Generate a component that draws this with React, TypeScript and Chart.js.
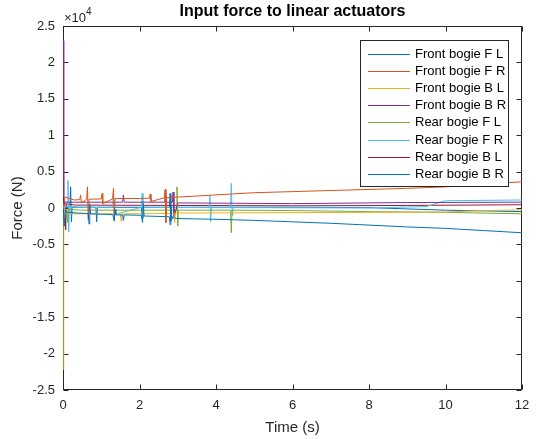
import React, { useEffect, useRef } from "react";
import { Chart, registerables } from "chart.js";

Chart.register(...registerables);

const TITLE = "Input force to linear actuators";
const X_LABEL = "Time (s)";
const Y_LABEL = "Force (N)";
const Y_EXPONENT = "4";
const X_TICKS = [0, 2, 4, 6, 8, 10, 12];
const Y_TICKS = [-25000, -20000, -15000, -10000, -5000, 0, 5000, 10000, 15000, 20000, 25000];

const SERIES_NAMES = [
  "Front bogie F L",
  "Front bogie F R",
  "Front bogie B L",
  "Front bogie B R",
  "Rear bogie F L",
  "Rear bogie F R",
  "Rear bogie B L",
  "Rear bogie B R",
];
const SERIES_COLORS = ["#0072BD", "#D95319", "#EDB120", "#7E2F8E", "#77AC30", "#4DBEEE", "#A2142F", "#0072BD"];

// Force values in N, times in s
const frontFL_t = [0, 0.03, 0.06, 0.1, 0.4, 0.66, 0.68, 0.7, 0.72, 1.3, 1.34, 1.36, 1.38, 1.56, 1.58, 1.6, 2.05, 2.08, 2.1, 2.12, 2.78, 2.8, 2.82, 2.84, 3.0, 4.0, 5.0, 6.0, 7.0, 8.0, 9.0, 10.0, 11.0, 12.0];
const frontFL_v = [0, -2500, -300, -600, -700, -750, -2200, 500, -800, -900, -1800, -200, -950, -950, -1700, -950, -1000, -2000, 600, -1100, -1200, -2300, 300, -1300, -1450, -1550, -1700, -1900, -2100, -2350, -2600, -2800, -3100, -3400];

const frontFR_t = [0, 0.05, 0.3, 0.44, 0.46, 0.48, 0.62, 0.64, 0.66, 0.68, 1.0, 1.02, 1.04, 1.3, 1.32, 1.34, 1.36, 2.0, 2.26, 2.28, 2.3, 2.65, 2.67, 2.69, 2.71, 3.0, 4.0, 5.0, 6.0, 7.0, 8.0, 9.0, 10.0, 11.0, 12.0];
const frontFR_v = [0, 1500, 1100, 1150, 1800, 700, 1200, 2900, -1600, 1200, 1250, 2000, 600, 1250, 2700, -1600, 1300, 1300, 1350, 1900, 900, 1400, 2500, -2000, 1400, 1500, 1800, 2100, 2250, 2400, 2550, 2700, 2900, 3250, 3600];

const frontBL_t = [0, 0.02, 0.05, 0.3, 1.5, 1.52, 1.54, 2.9, 2.92, 2.94, 3.0, 5.0, 8.0, 10.0, 11.0, 12.0];
const frontBL_v = [-22200, -800, -700, -800, -800, -1800, -800, -750, -2000, -700, -700, -650, -600, -550, -350, -250];

const frontBR_t = [0, 0.02, 0.05, 0.3, 1.56, 1.58, 1.6, 2.66, 2.68, 2.7, 2.86, 2.88, 2.9, 3.0, 6.0, 9.0, 12.0];
const frontBR_v = [23000, 1500, 800, 800, 800, 1800, 800, 800, 2600, 800, 800, 2200, -1200, 700, 600, 750, 800];

const rearFL_t = [0, 0.1, 0.12, 0.14, 0.5, 2.96, 2.98, 3.0, 3.02, 4.38, 4.4, 4.42, 6.0, 8.0, 10.0, 12.0];
const rearFL_v = [0, -200, -2000, -200, -300, -300, 2900, -2500, -300, -300, -3400, -300, -350, -500, -600, -800];

const rearFR_t = [0, 0.11, 0.13, 0.15, 0.17, 0.5, 1.3, 1.32, 1.34, 2.05, 2.07, 2.09, 2.11, 3.82, 3.84, 3.86, 3.88, 4.38, 4.4, 4.42, 4.44, 8.0, 9.5, 10.0, 12.0];
const rearFR_v = [0, 200, 3800, -3300, 200, 100, 100, 2300, -900, 100, 2000, -1400, 100, 50, 1800, -1900, 50, 50, 3400, -1000, 50, 0, 200, 1000, 1100];

const rearBL_t = [0, 0.05, 0.07, 0.09, 0.3, 3.0, 6.0, 9.0, 12.0];
const rearBL_v = [0, 800, -3000, 600, 400, 350, 300, 350, 450];

const rearBR_t = [0, 0.18, 0.2, 0.22, 0.24, 0.5, 0.86, 0.88, 0.9, 2.05, 2.07, 2.09, 2.78, 2.8, 2.82, 3.0, 6.0, 8.0, 10.0, 12.0];
const rearBR_v = [0, 100, 2900, -1900, 100, 100, 100, -1900, 100, 100, -1400, 100, 100, 2000, -1800, 100, 100, 50, -300, -500];

const SERIES_T = [frontFL_t, frontFR_t, frontBL_t, frontBR_t, rearFL_t, rearFR_t, rearBL_t, rearBR_t];
const SERIES_V = [frontFL_v, frontFR_v, frontBL_v, frontBR_v, rearFL_v, rearFR_v, rearBL_v, rearBR_v];

const FONT = "'Liberation Sans', Arial, Helvetica, sans-serif";
const AXIS_COLOR = "#262626";

const framePlugin = {
  id: "matlabFrame",
  beforeDatasetsDraw(chart: any) {
    const { ctx, chartArea: a, scales } = chart;
    const L = Math.round(a.left) + 0.5;
    const R = Math.round(a.right) - 0.5;
    const T = Math.round(a.top) + 0.5;
    const B = Math.round(a.bottom) - 0.5;
    ctx.save();
    ctx.strokeStyle = AXIS_COLOR;
    ctx.lineWidth = 1;
    ctx.strokeRect(L, T, R - L, B - T);
    const tl = 5;
    ctx.beginPath();
    scales.x.ticks.forEach((t: any) => {
      const px = Math.round(scales.x.getPixelForValue(t.value)) + 0.5;
      ctx.moveTo(px, B);
      ctx.lineTo(px, B - tl);
      ctx.moveTo(px, T);
      ctx.lineTo(px, T + tl);
    });
    scales.y.ticks.forEach((t: any) => {
      const py = Math.round(scales.y.getPixelForValue(t.value)) + 0.5;
      ctx.moveTo(L, py);
      ctx.lineTo(L + tl, py);
      ctx.moveTo(R, py);
      ctx.lineTo(R - tl, py);
    });
    ctx.stroke();
    ctx.restore();
  },
  afterDraw(chart: any) {
    const { ctx, chartArea: a } = chart;
    ctx.save();
    // title
    ctx.fillStyle = "#000";
    ctx.font = `bold 16px ${FONT}`;
    ctx.textAlign = "center";
    ctx.textBaseline = "middle";
    ctx.fillText(TITLE, (a.left + a.right) / 2, 12);
    // axis labels
    ctx.fillStyle = AXIS_COLOR;
    ctx.font = `15px ${FONT}`;
    ctx.fillText(X_LABEL, (a.left + a.right) / 2, 428);
    ctx.save();
    ctx.translate(18, (a.top + a.bottom) / 2);
    ctx.rotate(-Math.PI / 2);
    ctx.fillText(Y_LABEL, 0, 0);
    ctx.restore();
    // exponent
    ctx.textAlign = "left";
    ctx.font = `13px ${FONT}`;
    const base = "\u00d710";
    ctx.fillText(base, a.left + 1, 18);
    const w = ctx.measureText(base).width;
    ctx.font = `10px ${FONT}`;
    ctx.fillText(Y_EXPONENT, a.left + 1 + w, 12);
    // legend
    const lx = 360.5, ly = 40.5, lw = 148, lh = 146;
    ctx.fillStyle = "#fff";
    ctx.fillRect(lx, ly, lw, lh);
    ctx.strokeStyle = AXIS_COLOR;
    ctx.lineWidth = 1;
    ctx.strokeRect(lx, ly, lw, lh);
    ctx.font = `13px ${FONT}`;
    ctx.textAlign = "left";
    ctx.textBaseline = "middle";
    chart.data.datasets.forEach((ds: any, i: number) => {
      const y = Math.round(54 + i * 17.1) + 0.5;
      ctx.strokeStyle = ds.borderColor;
      ctx.beginPath();
      ctx.moveTo(368, y);
      ctx.lineTo(410, y);
      ctx.stroke();
      ctx.fillStyle = "#000";
      ctx.fillText(ds.label, 415, y);
    });
    ctx.restore();
  },
};

export default function App() {
  const ref = useRef<HTMLCanvasElement | null>(null);
  useEffect(() => {
    if (!ref.current) return;
    const datasets = SERIES_NAMES.map((name, i) => ({
      label: name,
      data: SERIES_T[i].map((t, k) => ({ x: t, y: SERIES_V[i][k] })),
      borderColor: SERIES_COLORS[i],
      backgroundColor: SERIES_COLORS[i],
      borderWidth: 1,
      pointRadius: 0,
      tension: 0,
      fill: false,
    }));
    const tickFont = { family: FONT, size: 13 };
    const chart = new Chart(ref.current, {
      type: "line",
      data: { datasets },
      options: {
        animation: false,
        responsive: false,
        devicePixelRatio: 1,
        layout: { padding: { top: 26, right: 24, left: 0, bottom: 0 } },
        plugins: {
          legend: { display: false },
          title: { display: false },
          tooltip: { enabled: false },
        },
        scales: {
          x: {
            type: "linear",
            min: 0,
            max: 12,
            afterBuildTicks: (s: any) => {
              s.ticks = X_TICKS.map((v) => ({ value: v }));
            },
            afterFit: (s: any) => {
              s.height = 49;
            },
            grid: { display: false, drawTicks: false },
            border: { display: false },
            ticks: { padding: 8, font: tickFont, color: AXIS_COLOR, maxRotation: 0, autoSkip: false, callback: (v: any) => String(v) },
          },
          y: {
            type: "linear",
            min: -25000,
            max: 25000,
            afterBuildTicks: (s: any) => {
              s.ticks = Y_TICKS.map((v) => ({ value: v }));
            },
            afterFit: (s: any) => {
              s.width = 63;
            },
            grid: { display: false, drawTicks: false },
            border: { display: false },
            ticks: {
              padding: 8,
              font: tickFont,
              color: AXIS_COLOR,
              autoSkip: false,
              callback: (v: any) => String(Math.round((v as number) / 1000) / 10),
            },
          },
        },
      },
      plugins: [framePlugin],
    } as any);
    return () => chart.destroy();
  }, []);
  return (
    <div style={{ position: "fixed", left: 0, top: 0, width: 546, height: 439, background: "#fff" }}>
      <canvas ref={ref} width={546} height={439} style={{ display: "block" }} />
    </div>
  );
}
